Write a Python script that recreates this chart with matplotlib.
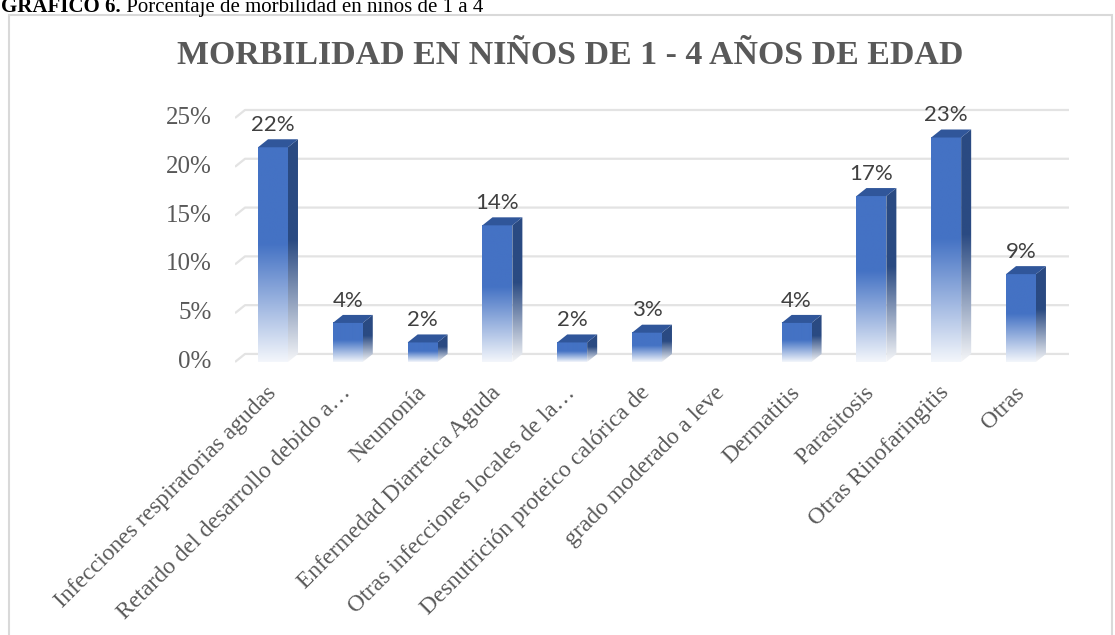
import numpy as np
import matplotlib.pyplot as plt
from matplotlib.patches import Polygon, Rectangle
from matplotlib.colors import to_rgb

# datos del grafico
categorias = ['Infecciones respiratorias agudas', 'Retardo del desarrollo debido a…',
              'Neumonía', 'Enfermedad Diarreica Aguda', 'Otras infecciones locales de la…',
              'Desnutrición proteico calórica de', 'grado moderado a leve', 'Dermatitis',
              'Parasitosis', 'Otras Rinofaringitis', 'Otras']
valores = [22, 4, 2, 14, 2, 3, np.nan, 4, 17, 23, 9]
ticks_y = [0, 5, 10, 15, 20, 25]

titulo = 'MORBILIDAD EN NIÑOS DE 1 - 4 AÑOS DE EDAD'

W, H = 1115, 635
fig = plt.figure(figsize=(11.15, 6.35), dpi=100)
ax = fig.add_axes([235 / W, (H - 368.6) / H, 834 / W, 263.5 / H])

x0, x1 = -0.508, 10.642
dx = 0.134   # profundidad 3d en x
dz = 0.82    # profundidad 3d en y
w = 0.40
serif = 'Liberation Serif'
gris = '#595959'


def degradado(color, fin='#f3f6fb', corte=0.45, n=200):
    c = np.array(to_rgb(color))
    b = np.array(to_rgb(fin))
    t = np.linspace(0, 1, n)[:, None]
    f = np.clip((t - corte) / (1 - corte), 0, 1)
    return (c * (1 - f) + b * f)[:, None, :]


# lineas de la cuadricula
for g in ticks_y:
    ax.plot([x0, x0 + dx, x1], [g - dz, g, g], color='#e3e3e3', lw=1.6, zorder=1,
            solid_capstyle='butt')
    ax.annotate(f'{g}%', (x0, g - dz), xytext=(-17, 0), textcoords='offset points',
                ha='right', va='center', family=serif, fontsize=18, color=gris)

# barras 3d
for i, v in enumerate(valores):
    if np.isnan(v):
        continue
    xl, xr = i - w / 2, i + w / 2
    ax.imshow(degradado('#4472C4'), extent=(xl, xr, -dz, v - dz), aspect='auto',
              interpolation='bilinear', zorder=3)
    lado = Polygon([(xr, -dz), (xr, v - dz), (xr + dx, v), (xr + dx, 0)], closed=True,
                   transform=ax.transData)
    im = ax.imshow(degradado('#2A4A82', fin='#f5f6f8'), extent=(xr, xr + dx, -dz, v),
                   aspect='auto', interpolation='bilinear', zorder=3)
    im.set_clip_path(lado)
    ax.add_patch(Polygon([(xl, v - dz), (xr, v - dz), (xr + dx, v), (xl + dx, v)],
                         closed=True, facecolor='#30569A', edgecolor='none', zorder=4))
    ax.annotate(f'{v:.0f}%', (i, v), xytext=(0, 6), textcoords='offset points',
                ha='center', va='baseline', family='Lato', fontsize=16, color='#404040')

for i, lab in enumerate(categorias):
    ax.text(i - 0.1, -2.9, lab, rotation=45, rotation_mode='anchor', ha='right',
            va='top', family=serif, fontsize=17, color=gris, clip_on=False)

ax.set_xlim(x0, x1)
ax.set_ylim(-1.5, 25.5)
ax.axis('off')

# titulo y marco
fig.text(570 / W, 1 - 55 / H, titulo, ha='center', va='center', fontsize=24.4,
         weight='bold', family=serif, color=gris)
fig.patches.append(Rectangle((9 / W, -0.05), (1112 - 9) / W, 620 / H + 0.05,
                             transform=fig.transFigure, fill=False,
                             edgecolor='#d9d9d9', lw=1.5))

r = fig.canvas.get_renderer()
t1 = fig.text(1 / W, 1 - 12 / H, 'GRÁFICO 6.', ha='left', va='baseline',
              fontsize=15, weight='bold', family=serif, color='black')
bb = t1.get_window_extent(renderer=r)
fig.text(bb.x1 / W, 1 - 12 / H, ' Porcentaje de morbilidad en niños de 1 a 4', ha='left',
         va='baseline', fontsize=15, family=serif, color='black')

fig.savefig('out.png', dpi=100)
